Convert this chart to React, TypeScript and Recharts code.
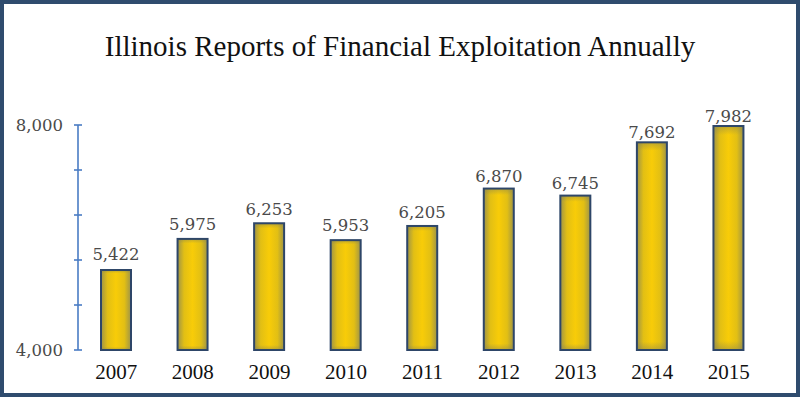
import React from "react";
import { BarChart, Bar, XAxis, YAxis, LabelList } from "recharts";

const years = ["2007", "2008", "2009", "2010", "2011", "2012", "2013", "2014", "2015"];
const reports = [5422, 5975, 6253, 5953, 6205, 6870, 6745, 7692, 7982];
const yTicks = [4000, 4800, 5600, 6400, 7200, 8000];
const yLabeled = [4000, 8000];
const title = "Illinois Reports of Financial Exploitation Annually";

const data = years.map((y, i) => ({ year: y, value: reports[i] }));

const fmt = (v: number) => v.toLocaleString("en-US");

const vMin = Math.min(...reports);
const vMax = Math.max(...reports);

const YTick = (props: any) => {
  const { x, y, payload } = props;
  const v = payload.value;
  return (
    <g>
      <line x1={x - 4} x2={x + 4} y1={y} y2={y} stroke="#4a7cc4" strokeWidth={1.6} />
      {yLabeled.includes(v) && (
        <text x={x - 15} y={y} textAnchor="end" dominantBaseline="central" fontFamily="DejaVu Serif" fontSize={16.5} fill="#4a4a4a">
          {fmt(v)}
        </text>
      )}
    </g>
  );
};

const ValueLabel = (props: any) => {
  const { x, y, width, value } = props;
  const v = Number(value);
  const gap = 10 - (6 * (v - vMin)) / (vMax - vMin);
  return (
    <text x={x + width / 2} y={y - gap} textAnchor="middle" fontFamily="DejaVu Serif" fontSize={16.5} fill="#4a4a4a">
      {fmt(v)}
    </text>
  );
};

const renderBar = (props: any) => {
  const { x, y, width, height } = props;
  return (
    <g>
      <defs>
        <linearGradient id="gH" x1="0" y1="0" x2="1" y2="0">
          <stop offset="0%" stopColor="#9e9448" />
          <stop offset="22%" stopColor="#e2bf14" />
          <stop offset="50%" stopColor="#f8cc08" />
          <stop offset="78%" stopColor="#e2bf14" />
          <stop offset="100%" stopColor="#9e9448" />
        </linearGradient>
        <linearGradient id="gV" x1="0" y1="0" x2="0" y2="1">
          <stop offset="0%" stopColor="#8a8450" stopOpacity={0.5} />
          <stop offset="4%" stopColor="#8a8450" stopOpacity={0} />
          <stop offset="96%" stopColor="#8a8450" stopOpacity={0} />
          <stop offset="100%" stopColor="#8a8450" stopOpacity={0.5} />
        </linearGradient>
      </defs>
      <rect x={x} y={y} width={width} height={height} fill="url(#gH)" />
      <rect x={x} y={y} width={width} height={height} fill="url(#gV)" />
      <rect x={x} y={y} width={width} height={height} fill="none" stroke="#2e4668" strokeWidth={2} />
    </g>
  );
};

export default function App() {
  return (
    <div style={{ position: "absolute", left: 0, top: 0, width: 800, height: 397, background: "#fff" }}>
      <div style={{ position: "absolute", left: 0, top: 0, width: 800, height: 397, boxSizing: "border-box", border: "4px solid #2f4c6e", zIndex: 2, pointerEvents: "none" }} />
      <div style={{ position: "absolute", left: 0, top: 27, width: 800, textAlign: "center", fontFamily: "Liberation Serif", fontSize: 29, color: "#111", lineHeight: "38px" }}>
        {title}
      </div>
      <BarChart width={800} height={397} data={data} margin={{ top: 125, right: 33, bottom: 7, left: 0 }} barSize={30}>
        <XAxis
          dataKey="year"
          axisLine={false}
          tickLine={false}
          height={40}
          tickMargin={8}
          tick={{ fontFamily: "Liberation Serif", fontSize: 21, fill: "#111" }}
        />
        <YAxis
          domain={[4000, 8000]}
          ticks={yTicks}
          width={78}
          tickSize={0}
          tickMargin={0}
          axisLine={{ stroke: "#4a7cc4", strokeWidth: 1.6 }}
          tickLine={false}
          tick={<YTick />}
          interval={0}
        />
        <Bar dataKey="value" fill="#f8cc08" isAnimationActive={false} shape={renderBar}>
          <LabelList dataKey="value" content={ValueLabel} />
        </Bar>
      </BarChart>
    </div>
  );
}
